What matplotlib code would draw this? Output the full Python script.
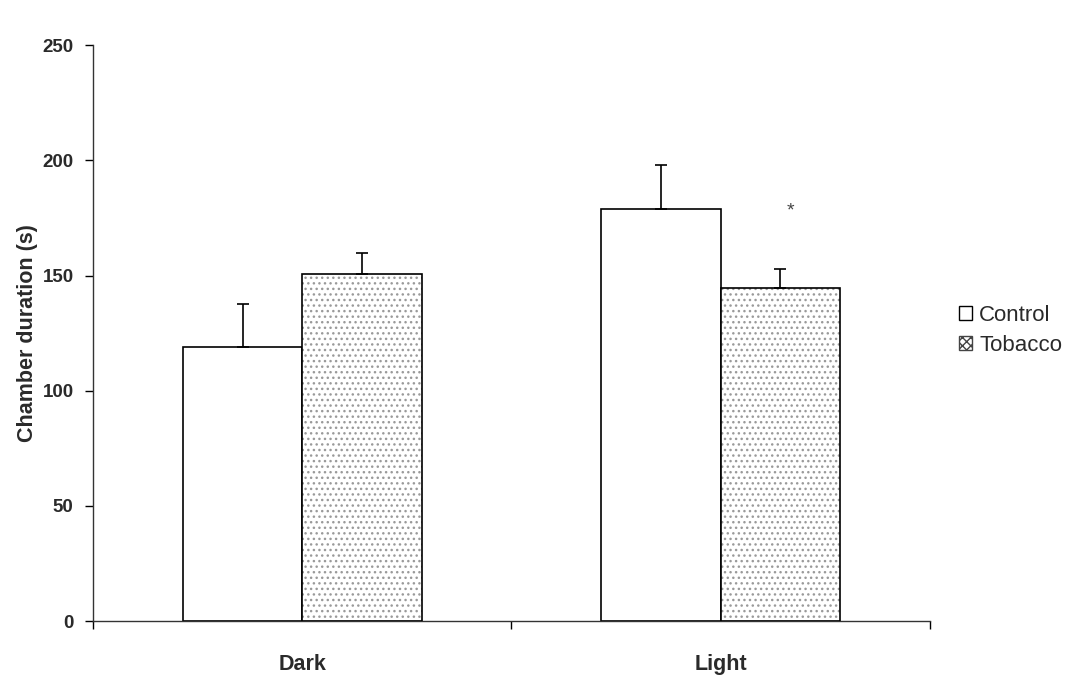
import matplotlib

matplotlib.use('Agg')

import matplotlib.pyplot as plt
import numpy as np
from matplotlib.patches import Patch

plt.rcParams['font.family'] = ['Liberation Sans', 'DejaVu Sans']

# data
categories = ['Dark', 'Light']
control = [118.9, 178.9]
control_err = [18.7, 19.1]
tobacco = [150.7, 144.4]
tobacco_err = [8.9, 8.5]
y_ticks = [0, 50, 100, 150, 200, 250]

txt = '#2a2a2a'
x = np.arange(len(categories))
w = 0.285

fig = plt.figure(figsize=(10.70, 6.75), dpi=100)
ax = fig.add_axes([0.087, 0.08, 0.782, 0.853])

# control bars: plain white
ax.bar(x - w / 2, control, w, color='white', edgecolor='black', linewidth=1.2, zorder=2)
ax.errorbar(x - w / 2, control, yerr=[np.zeros(len(control)), control_err],
            fmt='none', ecolor='black', elinewidth=1.2, capsize=4, capthick=1.2, zorder=3)

# tobacco bars: gray dots, then black outline on top
ax.bar(x + w / 2, tobacco, w, color='white', edgecolor='#9a9a9a', hatch='...', linewidth=0, zorder=2)
ax.bar(x + w / 2, tobacco, w, fill=False, edgecolor='black', linewidth=1.2, zorder=3)
ax.errorbar(x + w / 2, tobacco, yerr=[np.zeros(len(tobacco)), tobacco_err],
            fmt='none', ecolor='black', elinewidth=1.2, capsize=4, capthick=1.2, zorder=3)

# significance mark
ax.text(x[1] + w / 2 + 0.025, 178, '*', ha='center', va='center', fontsize=14, color='#444444')

ax.set_xlim(-0.5, 1.5)
ax.set_ylim(0, 250)
ax.set_yticks(y_ticks)
ax.tick_params(axis='y', direction='out', length=6, width=1, pad=8, labelsize=13.5, labelcolor=txt)
for lab in ax.get_yticklabels():
    lab.set_fontweight('bold')

# category boundary ticks, labels in between
ax.set_xticks([-0.5, 0.5, 1.5])
ax.set_xticklabels([])
ax.tick_params(axis='x', which='major', direction='out', length=6, width=1)
ax.set_xticks(x, minor=True)
ax.set_xticklabels(categories, minor=True)
ax.tick_params(axis='x', which='minor', length=0, pad=24, labelsize=15.5, labelcolor=txt)
for lab in ax.get_xticklabels(minor=True):
    lab.set_fontweight('bold')

ax.spines['top'].set_visible(False)
ax.spines['right'].set_visible(False)
for s in ('left', 'bottom'):
    ax.spines[s].set_linewidth(1)
    ax.spines[s].set_color('#333333')

ax.set_ylabel('Chamber duration (s)', fontsize=15.5, fontweight='bold', color=txt, labelpad=3)

handles = [Patch(facecolor='white', edgecolor='black', linewidth=1, label='Control'),
           Patch(facecolor='white', edgecolor='#444444', hatch='xxxx', linewidth=1, label='Tobacco')]
fig.legend(handles=handles, loc='center left', bbox_to_anchor=(0.888, 0.511), frameon=False,
           prop={'size': 16}, handlelength=0.6, handleheight=0.6, handletextpad=0.3,
           labelspacing=0.4, labelcolor=txt, borderaxespad=0)

fig.savefig('out.png', dpi=100)
